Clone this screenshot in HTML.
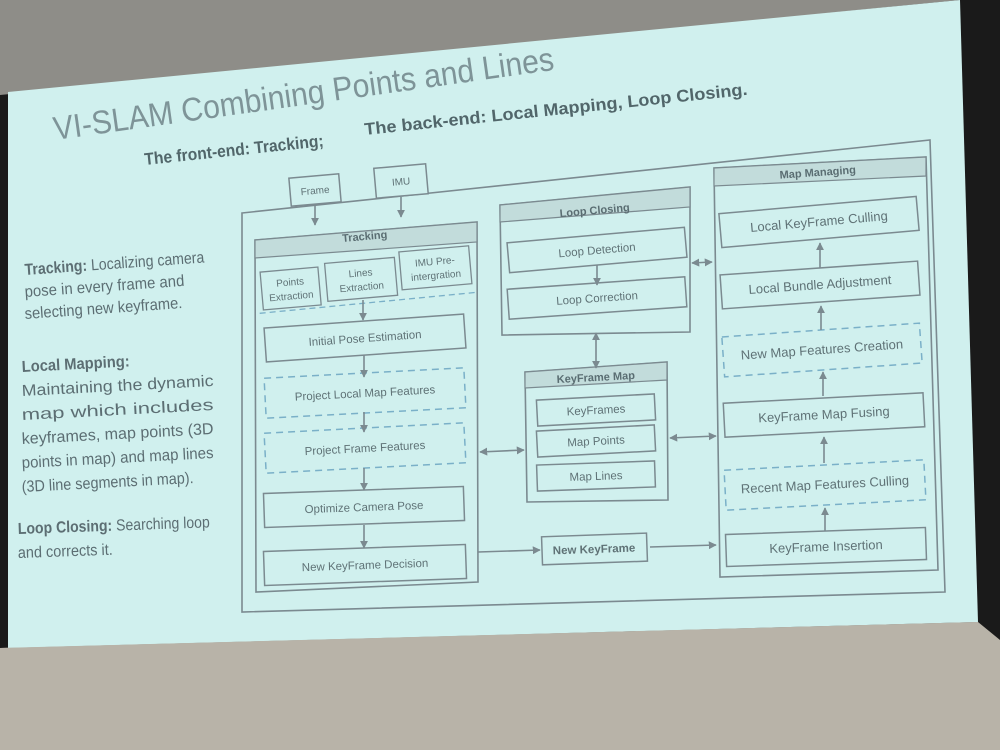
<!DOCTYPE html>
<html><head><meta charset="utf-8"><style>
html,body{margin:0;padding:0;width:1000px;height:750px;overflow:hidden;background:#b9b4a9}
svg{display:block}
text{font-family:"Liberation Sans Narrow","Liberation Sans",sans-serif}
</style></head><body>
<svg width="1000" height="750" viewBox="0 0 1000 750">
<defs>
<marker id="a" viewBox="0 0 10 10" refX="9" refY="5" markerWidth="5" markerHeight="5" orient="auto-start-reverse"><path d="M0,0L10,5L0,10z" fill="#7b8a90"/></marker>
</defs>
<rect width="1000" height="750" fill="#b9b4a9"/>
<polygon points="0,0 1000,0 1000,120 0,120" fill="#8e8d88"/>
<polygon points="0,95 960,0 1000,0 1000,750 990,750 978,622 0,648" fill="#1a1a1a"/>
<polygon points="8,92 960,0 978,622 8,648" fill="#d0f0ee"/>
<polygon points="0,648 978,622 1000,640 1000,750 0,750" fill="#b8b3a8"/>

<g fill="#7e9498">
<text x="55" y="140" font-size="33" textLength="505" lengthAdjust="spacingAndGlyphs" transform="rotate(-8 55 140)">VI-SLAM Combining Points and Lines</text>
</g>
<g fill="#51666a" font-weight="bold" font-size="17">
<text x="145" y="165" textLength="180" lengthAdjust="spacingAndGlyphs" transform="rotate(-6 145 165)">The front-end: Tracking;</text>
<text x="365" y="135" textLength="385" lengthAdjust="spacingAndGlyphs" transform="rotate(-6 365 135)">The back-end: Local Mapping, Loop Closing.</text>
</g>
<g fill="#5c6e73" font-size="16" lengthAdjust="spacingAndGlyphs">
<text x="25" y="275" textLength="180" lengthAdjust="spacingAndGlyphs" transform="rotate(-4 25 275)"><tspan font-weight="bold">Tracking:</tspan> Localizing camera</text>
<text x="25" y="297" textLength="160" lengthAdjust="spacingAndGlyphs" transform="rotate(-4 25 297)">pose in every frame and</text>
<text x="25" y="319" textLength="158" lengthAdjust="spacingAndGlyphs" transform="rotate(-4 25 319)">selecting new keyframe.</text>
<text x="22" y="372" textLength="108" lengthAdjust="spacingAndGlyphs" transform="rotate(-3 22 372)" font-weight="bold">Local Mapping:</text>
<text x="22" y="396" textLength="192" lengthAdjust="spacingAndGlyphs" transform="rotate(-3 22 396)">Maintaining  the  dynamic</text>
<text x="22" y="420" textLength="192" lengthAdjust="spacingAndGlyphs" transform="rotate(-3 22 420)">map      which      includes</text>
<text x="22" y="444" textLength="192" lengthAdjust="spacingAndGlyphs" transform="rotate(-3 22 444)">keyframes, map points (3D</text>
<text x="22" y="468" textLength="192" lengthAdjust="spacingAndGlyphs" transform="rotate(-3 22 468)">points in map) and map lines</text>
<text x="22" y="492" textLength="172" lengthAdjust="spacingAndGlyphs" transform="rotate(-3 22 492)">(3D line segments in map).</text>
<text x="18" y="534" textLength="192" lengthAdjust="spacingAndGlyphs" transform="rotate(-2 18 534)"><tspan font-weight="bold">Loop Closing:</tspan> Searching loop</text>
<text x="18" y="558" textLength="95" lengthAdjust="spacingAndGlyphs" transform="rotate(-2 18 558)">and corrects it.</text>
</g>

<g fill="none" stroke="#7b8a90" stroke-width="1.6">
<polygon points="242,213 930,140 945,592 242,612"/>
<polygon points="255,240 477,222 478,582 256,592"/>
<polygon points="500,205 690,187 690,332 502,335"/>
<polygon points="525,372 667,362 668,500 527,502"/>
<polygon points="714,168 926,157 938,570 720,577"/>
</g>
<g fill="#c2dcdb" stroke="#7b8a90" stroke-width="1.2">
<polygon points="255,240 477,222 477,242 255,258"/>
<polygon points="500,205 690,187 690,207 500,222"/>
<polygon points="525,372 667,362 667,380 525,388"/>
<polygon points="714,168 926,157 926,176 714,186"/>
</g>
<g fill="#5a6d72" font-size="11" text-anchor="middle" font-weight="bold">
<text x="365" y="240" transform="rotate(-5 365 240)">Tracking</text>
<text x="595" y="214" transform="rotate(-5 595 214)">Loop Closing</text>
<text x="596" y="381" transform="rotate(-3 596 381)">KeyFrame Map</text>
<text x="818" y="176" transform="rotate(-4 818 176)">Map Managing</text>
</g>

<g font-size="11.5" fill="#5f7276" text-anchor="middle">
<g transform="rotate(-5 315 190)"><rect x="290" y="176" width="50" height="28" fill="#d0f0ee" stroke="#7b8a90" stroke-width="1.5"/><text x="315" y="194" font-size="10">Frame</text></g>
<g transform="rotate(-5 401 181)"><rect x="375" y="166" width="52" height="30" fill="#d0f0ee" stroke="#7b8a90" stroke-width="1.5"/><text x="401" y="185" font-size="10">IMU</text></g>

<g transform="rotate(-5 365 278)" font-size="10">
<rect x="261" y="263" width="58" height="38" fill="none" stroke="#7b8a90" stroke-width="1.3"/><text x="290" y="279">Points</text><text x="290" y="293">Extraction</text>
<rect x="326" y="260" width="70" height="38" fill="none" stroke="#7b8a90" stroke-width="1.3"/><text x="361" y="276">Lines</text><text x="361" y="290">Extraction</text>
<rect x="401" y="255" width="70" height="38" fill="none" stroke="#7b8a90" stroke-width="1.3"/><text x="436" y="271">IMU Pre-</text><text x="436" y="285">intergration</text>
<line x1="257" y1="304" x2="477" y2="302" stroke="#7ab0c8" stroke-dasharray="6,4" stroke-width="1.3"/>
</g>

<g fill="none" stroke="#7b8a90" stroke-width="1.5">
<rect x="265" y="321" width="200" height="34" transform="rotate(-4 365 338)"/>
<rect x="265" y="373" width="200" height="40" transform="rotate(-3 365 393)" stroke="#7ab0c8" stroke-dasharray="7,5"/>
<rect x="265" y="428" width="200" height="40" transform="rotate(-3 365 448)" stroke="#7ab0c8" stroke-dasharray="7,5"/>
<rect x="264" y="490" width="200" height="34" transform="rotate(-2 364 507)"/>
<rect x="264" y="548" width="202" height="34" transform="rotate(-2 365 565)"/>
<rect x="508" y="235" width="178" height="30" transform="rotate(-5 597 250)"/>
<rect x="508" y="283" width="178" height="30" transform="rotate(-4 597 298)"/>
<rect x="537" y="397" width="118" height="26" transform="rotate(-3 596 410)"/>
<rect x="537" y="428" width="118" height="26" transform="rotate(-3 596 441)"/>
<rect x="537" y="463" width="118" height="26" transform="rotate(-2 596 476)"/>
<rect x="542" y="535" width="105" height="28" transform="rotate(-2 594 549)"/>
<rect x="720" y="205" width="198" height="34" transform="rotate(-5 819 222)"/>
<rect x="721" y="268" width="198" height="34" transform="rotate(-4 820 285)"/>
<rect x="723" y="330" width="198" height="40" transform="rotate(-4 822 350)" stroke="#7ab0c8" stroke-dasharray="7,5"/>
<rect x="724" y="398" width="200" height="34" transform="rotate(-3 824 415)"/>
<rect x="725" y="465" width="200" height="40" transform="rotate(-3 825 485)" stroke="#7ab0c8" stroke-dasharray="7,5"/>
<rect x="726" y="531" width="200" height="32" transform="rotate(-2 826 547)"/>
</g>
<g font-size="11.5">
<text x="365" y="342" transform="rotate(-4 365 338)">Initial Pose Estimation</text>
<text x="365" y="397" transform="rotate(-3 365 393)">Project Local Map Features</text>
<text x="365" y="452" transform="rotate(-3 365 448)">Project Frame Features</text>
<text x="364" y="511" transform="rotate(-2 364 507)">Optimize Camera Pose</text>
<text x="365" y="569" transform="rotate(-2 365 565)">New KeyFrame Decision</text>
<text x="597" y="254" transform="rotate(-5 597 250)">Loop Detection</text>
<text x="597" y="302" transform="rotate(-4 597 298)">Loop Correction</text>
<text x="596" y="414" transform="rotate(-3 596 410)">KeyFrames</text>
<text x="596" y="445" transform="rotate(-3 596 441)">Map Points</text>
<text x="596" y="480" transform="rotate(-2 596 476)">Map Lines</text>
<text x="594" y="553" font-weight="bold" transform="rotate(-2 594 549)">New KeyFrame</text>
<g font-size="13">
<text x="819" y="226" transform="rotate(-5 819 222)">Local KeyFrame Culling</text>
<text x="820" y="289" transform="rotate(-4 820 285)">Local Bundle Adjustment</text>
<text x="822" y="354" transform="rotate(-4 822 350)">New Map Features Creation</text>
<text x="824" y="419" transform="rotate(-3 824 415)">KeyFrame Map Fusing</text>
<text x="825" y="489" transform="rotate(-3 825 485)">Recent Map Features Culling</text>
<text x="826" y="551" transform="rotate(-2 826 547)">KeyFrame Insertion</text>
</g>
</g>
</g>

<g stroke="#7b8a90" stroke-width="1.6" fill="none" marker-end="url(#a)">
<line x1="315" y1="205" x2="315" y2="225"/>
<line x1="401" y1="197" x2="401" y2="217"/>
<line x1="363" y1="300" x2="363" y2="320"/>
<line x1="364" y1="355" x2="364" y2="377"/>
<line x1="364" y1="412" x2="364" y2="432"/>
<line x1="364" y1="468" x2="364" y2="490"/>
<line x1="364" y1="525" x2="364" y2="548"/>
<line x1="597" y1="265" x2="597" y2="285"/>
<line x1="820" y1="268" x2="820" y2="243"/>
<line x1="821" y1="330" x2="821" y2="306"/>
<line x1="823" y1="396" x2="823" y2="372"/>
<line x1="824" y1="463" x2="824" y2="437"/>
<line x1="825" y1="531" x2="825" y2="508"/>
<line x1="478" y1="552" x2="540" y2="550"/>
<line x1="650" y1="547" x2="716" y2="545"/>
<line x1="596" y1="333" x2="596" y2="368" marker-start="url(#a)"/>
<line x1="480" y1="452" x2="524" y2="450" marker-start="url(#a)"/>
<line x1="670" y1="438" x2="716" y2="436" marker-start="url(#a)"/>
<line x1="692" y1="263" x2="712" y2="262" marker-start="url(#a)"/>
</g>
</svg>
</body></html>
